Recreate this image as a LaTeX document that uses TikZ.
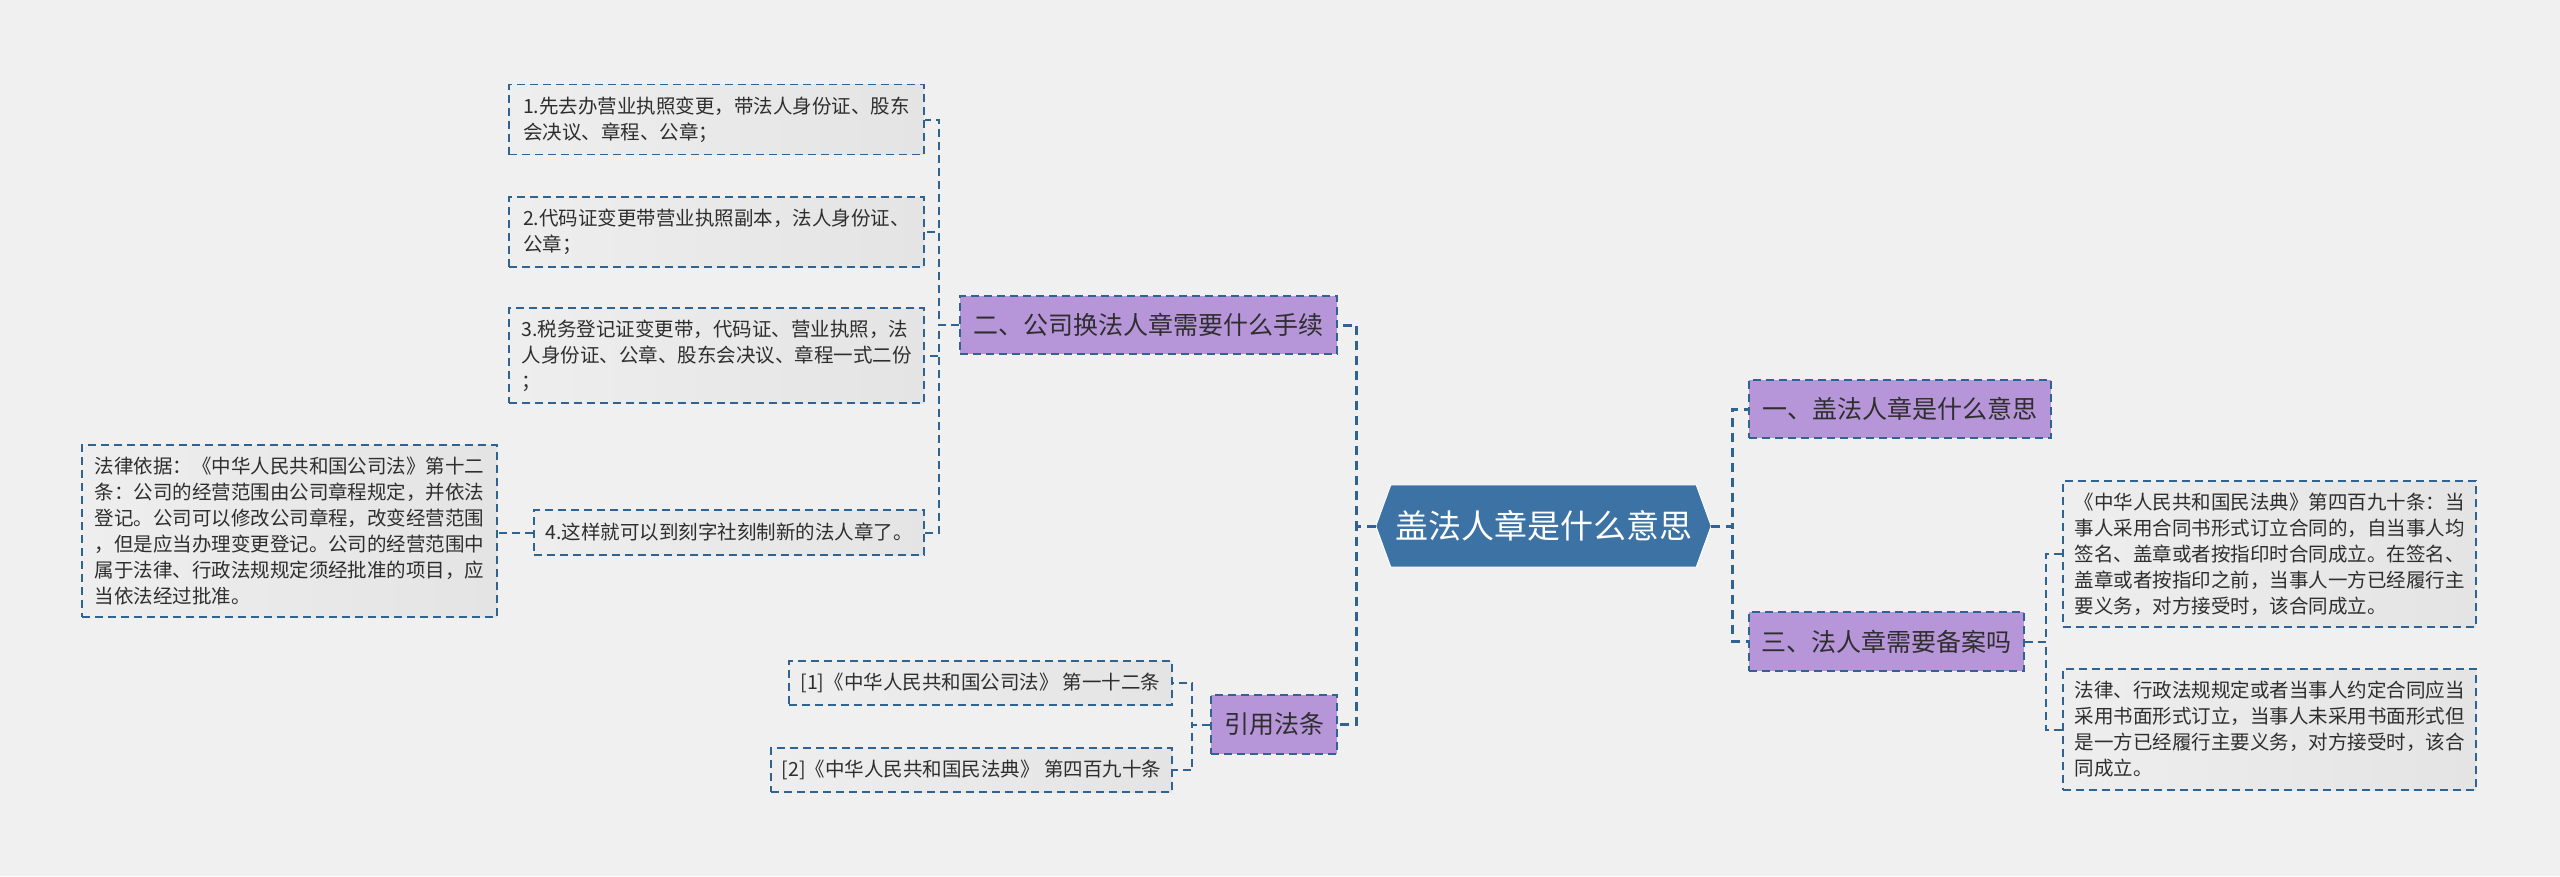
\documentclass[tikz,border=0pt]{standalone}
\usepackage{fontspec}
\setmainfont{Noto Sans CJK SC}
\usetikzlibrary{backgrounds}
\definecolor{bg}{HTML}{F0F0F0}
\definecolor{lineblue}{HTML}{2F6392}
\definecolor{rootfill}{HTML}{3C72A4}
\definecolor{purp}{HTML}{B795D9}
\definecolor{leafa}{HTML}{EEEEEE}
\definecolor{leafb}{HTML}{E4E4E4}
\definecolor{txt}{HTML}{2E2E2E}
\begin{document}
\begin{tikzpicture}[x=1pt,y=-1pt,
  conn/.style={draw=lineblue, line width=2pt, dash pattern=on 8pt off 5pt},
  rootconn/.style={draw=lineblue, line width=3pt, dash pattern=on 9pt off 6pt},
  leaf/.style={draw=lineblue, line width=1.8pt, dash pattern=on 8pt off 5pt, left color=leafa, right color=leafb,
    align=left, inner sep=0pt, font=\fontsize{19.5}{26}\selectfont, text=txt},
  topic/.style={draw=lineblue, line width=1.8pt, dash pattern=on 8pt off 5pt, fill=purp,
    inner sep=0pt, font=\fontsize{25}{30}\selectfont, text=txt},
  rootnode/.style={inner sep=0pt, font=\fontsize{33}{38}\selectfont, text=white,
    minimum width=335pt, minimum height=82pt}
]
\useasboundingbox (0,0) rectangle (2560,876);

% root
\node[rootnode] (root) at (1543.5,526) {盖法人章是什么意思};

% right topics
\node[topic, minimum width=302pt, minimum height=58pt] (n1) at (1900,409) {一、盖法人章是什么意思};
\node[topic, minimum width=275pt, minimum height=59pt] (n3) at (1886.5,641.5) {三、法人章需要备案吗};
\node[leaf, minimum width=413pt, minimum height=146pt] (rl1) at (2269.5,554) {《中华人民共和国民法典》第四百九十条：当\\事人采用合同书形式订立合同的，自当事人均\\签名、盖章或者按指印时合同成立。在签名、\\盖章或者按指印之前，当事人一方已经履行主\\要义务，对方接受时，该合同成立。};
\node[leaf, minimum width=413pt, minimum height=121pt] (rl2) at (2269.5,729.5) {法律、行政法规规定或者当事人约定合同应当\\采用书面形式订立，当事人未采用书面形式但\\是一方已经履行主要义务，对方接受时，该合\\同成立。};

% left topics
\node[topic, minimum width=377pt, minimum height=58pt] (n2) at (1148.5,325) {二、公司换法人章需要什么手续};
\node[topic, minimum width=126pt, minimum height=59pt] (cite) at (1274,724.5) {引用法条};

\node[leaf, minimum width=415pt, minimum height=70pt] (c1) at (716.5,119.5) {1.先去办营业执照变更，带法人身份证、股东\\会决议、章程、公章；};
\node[leaf, minimum width=415pt, minimum height=70pt] (c2) at (716.5,232) {2.代码证变更带营业执照副本，法人身份证、\\公章；};
\node[leaf, minimum width=415pt, minimum height=95pt] (c3) at (716.5,355.5) {3.税务登记证变更带，代码证、营业执照，法\\人身份证、公章、股东会决议、章程一式二份\\；};
\node[leaf, minimum width=390pt, minimum height=45pt] (c4) at (729,532.5) {4.这样就可以到刻字社刻制新的法人章了。};
\node[leaf, minimum width=415pt, minimum height=172pt] (c4d) at (289.5,531) {法律依据：《中华人民共和国公司法》第十二\\条：公司的经营范围由公司章程规定，并依法\\登记。公司可以修改公司章程，改变经营范围\\，但是应当办理变更登记。公司的经营范围中\\属于法律、行政法规规定须经批准的项目，应\\当依法经过批准。};

\node[leaf, minimum width=383pt, minimum height=44pt] (r1) at (980.5,683) {[1]《中华人民共和国公司法》 第一十二条};
\node[leaf, minimum width=401pt, minimum height=44pt] (r2) at (971.5,770) {[2]《中华人民共和国民法典》 第四百九十条};

% background and root shape
\begin{scope}[on background layer]
  \fill[bg] (0,0) rectangle (2560,876);
  \filldraw[fill=rootfill, draw=white, line width=1pt] (root.west) -- ([xshift=15pt]root.north west) -- ([xshift=-15pt]root.north east)
    -- (root.east) -- ([xshift=-15pt]root.south east) -- ([xshift=15pt]root.south west) -- cycle;
\end{scope}

% connectors
\draw[rootconn] (root.east) -- ++(21,0) |- (n1.west);
\draw[rootconn] (root.east) -- ++(21,0) |- (n3.west);
\draw[rootconn] (root.west) -- ++(-19,0) |- (n2.east);
\draw[rootconn] (root.west) -- ++(-19,0) |- (cite.east);

\draw[conn] (n3.east) -- ++(21,0) |- (rl1.west);
\draw[conn] (n3.east) -- ++(21,0) |- (rl2.west);

\foreach \c in {c1,c2,c3,c4}{
  \draw[conn] (n2.west) -- ++(-20,0) |- (\c.east);
}
\draw[conn] (c4.west) -- (c4.west -| c4d.east);

\draw[conn] (cite.west) -- ++(-18,0) |- (r1.east);
\draw[conn] (cite.west) -- ++(-18,0) |- (r2.east);
\end{tikzpicture}
\end{document}
